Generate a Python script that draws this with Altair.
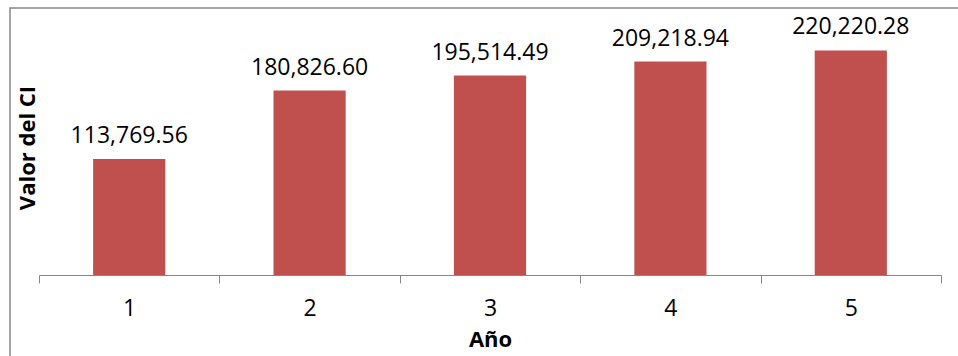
import altair as alt
import pandas as pd

years = ["1", "2", "3", "4", "5"]
values = [113769.56, 180826.60, 195514.49, 209218.94, 220220.28]

df = pd.DataFrame({"Año": years, "Valor": values})

FONT = "Open Sans"
GRAY = "#868686"
BAR = "#C0504D"

base = alt.Chart(df)

x = alt.X(
    "Año:O",
    sort=years,
    scale=alt.Scale(paddingInner=0, paddingOuter=0),
    axis=alt.Axis(
        title="Año",
        labelAngle=0,
        tickBand="extent",
        tickSize=8,
        tickColor=GRAY,
        domainColor=GRAY,
        labelFont=FONT,
        labelFontSize=23,
        labelColor="black",
        labelPadding=14,
        titleFont=FONT,
        titleFontSize=22,
        titleFontWeight="bold",
        titleColor="black",
        titlePadding=9,
    ),
)
y = alt.Y(
    "Valor:Q",
    scale=alt.Scale(domain=[0, 250000], nice=False),
    axis=alt.Axis(
        title="Valor del CI",
        labels=False,
        ticks=False,
        domain=False,
        grid=False,
        titleFont=FONT,
        titleFontSize=22,
        titleFontWeight="bold",
        titleColor="black",
        titlePadding=0,
    ),
)

bars = base.mark_bar(color=BAR, width=alt.RelativeBandSize(0.4)).encode(x=x, y=y)

labels = base.mark_text(
    font=FONT, fontSize=23, color="black", baseline="alphabetic", dy=-16
).encode(x=x, y=y, text=alt.Text("Valor:Q", format=",.2f"))

border = alt.Chart(pd.DataFrame({"a": [0]})).mark_rect(
    filled=False, stroke=GRAY, strokeWidth=1.5, clip=False
).encode(
    x=alt.value(-29), x2=alt.value(1000), y=alt.value(-12), y2=alt.value(420)
)

chart = (
    alt.layer(border, bars, labels)
    .properties(
        width=902,
        height=255,
        autosize=alt.AutoSizeParams(type="none"),
        padding={"left": 39, "top": 20, "right": 17, "bottom": 81},
    )
    .configure_view(stroke=None)
)

chart.save("out.html", embed_options={"renderer": "svg", "actions": False})
